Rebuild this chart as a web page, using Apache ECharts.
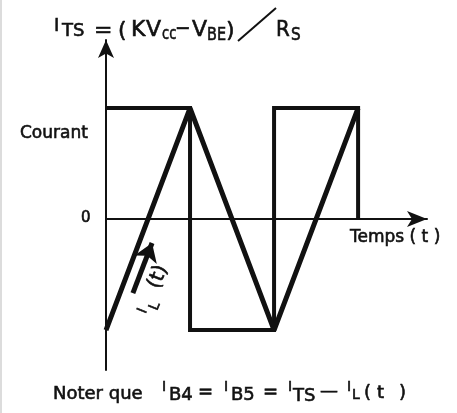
<!DOCTYPE html>
<html>
<head>
<meta charset="utf-8">
<script src="https://cdn.jsdelivr.net/npm/echarts@6/dist/echarts.min.js"></script>
<style>
  html, body { margin: 0; padding: 0; background: #fff; }
  #chart { width: 457px; height: 413px; }
</style>
</head>
<body>
<div id="chart"></div>
<script>
// Waveforms in normalised units: one time unit per half period, ±1 for the current levels
const switchTimes = [0, 1, 1, 2, 2, 3, 3];
const switchCurrent = [1, 1, -1, -1, 1, 1, 0];
const rampTimes = [0, 1, 2, 3];
const inductorCurrent = [-1, 1, -1, 1];
// Direction arrow for I_L(t), tail then tip, in the same units
const arrowTail = [0.32, -0.667];
const arrowHead = [0.548, -0.216];
// Visible extent of the two axes
const timeRange = [0, 3.82];
const currentRange = [-1.36, 1.613];

const INK = '#111';
const FONT = '"DejaVu Sans", sans-serif';

function pairs(xs, ys) {
  return xs.map((x, i) => [x, ys[i]]);
}

// Lettering: a light outline gives the strokes the weight of stencil lettering
function txt(text, x, y, size, sx) {
  return {
    type: 'text',
    x: x,
    y: y,
    scaleX: sx || 1,
    silent: true,
    style: {
      text: text,
      fontSize: size,
      fontFamily: FONT,
      fill: INK,
      stroke: INK,
      lineWidth: 0.6,
      align: 'left',
      verticalAlign: 'middle'
    }
  };
}

const chart = echarts.init(document.getElementById('chart'), null, { renderer: 'canvas' });

chart.setOption({
  animation: false,
  backgroundColor: '#fff',
  grid: { left: 106, right: 30, top: 40, bottom: 43, containLabel: false },
  xAxis: {
    type: 'value',
    min: timeRange[0],
    max: timeRange[1],
    axisLine: {
      show: true,
      onZero: true,
      symbol: ['none', 'arrow'],
      symbolSize: [12, 20],
      lineStyle: { color: INK, width: 2 }
    },
    axisTick: { show: false },
    axisLabel: { show: false },
    splitLine: { show: false }
  },
  yAxis: {
    type: 'value',
    min: currentRange[0],
    max: currentRange[1],
    axisLine: {
      show: true,
      onZero: true,
      symbol: ['none', 'arrow'],
      symbolSize: [12, 18],
      lineStyle: { color: INK, width: 2 }
    },
    axisTick: { show: false },
    axisLabel: { show: false },
    splitLine: { show: false }
  },
  series: [
    {
      name: 'I_TS',
      type: 'line',
      data: pairs(switchTimes, switchCurrent),
      showSymbol: false,
      symbol: 'none',
      lineStyle: { color: INK, width: 4, join: 'miter' },
      z: 3
    },
    {
      name: 'I_L',
      type: 'line',
      data: pairs(rampTimes, inductorCurrent),
      showSymbol: false,
      symbol: 'none',
      lineStyle: { color: INK, width: 5, join: 'bevel' },
      z: 4
    },
    {
      name: 'sens',
      type: 'lines',
      coordinateSystem: 'cartesian2d',
      data: [{ coords: [arrowTail, arrowHead] }],
      symbol: ['none', 'arrow'],
      symbolSize: [12, 18],
      lineStyle: { color: INK, width: 5, opacity: 1 },
      z: 5
    }
  ],
  graphic: [
    { type: 'rect', shape: { x: 0, y: 0, width: 2, height: 413 }, style: { fill: '#dcdcdc' }, silent: true },

    // I_TS = (KV_cc - V_BE) / R_S
    txt('I', 54, 26, 18),
    txt('TS', 62, 31.5, 18),
    txt('=', 94, 31, 22),
    txt('(', 118, 31, 22),
    txt('K', 131, 30, 22),
    txt('V', 146, 30, 22),
    txt('cc', 162, 34, 18, 0.72),
    txt('\u2212', 175, 29, 22, 0.85),
    txt('V', 192, 30, 22),
    txt('BE', 207, 35.5, 18, 0.8),
    txt(')', 226, 31, 22),
    { type: 'line', shape: { x1: 238, y1: 41, x2: 276, y2: 8 }, style: { stroke: INK, lineWidth: 2 }, silent: true },
    txt('R', 276, 30.5, 22, 0.9),
    txt('S', 291, 35.5, 18, 0.85),

    txt('Courant', 20, 134, 17),
    txt('0', 81, 218.5, 15),
    txt('Temps ( t )', 350, 238, 17),

    // I_L(t), written along the arrow
    {
      type: 'group',
      x: 155,
      y: 290,
      rotation: 1.19,
      children: [
        txt('I', -26, -3.5, 14),
        txt('L', -19, 6, 14),
        txt('(t)', 1.5, -2, 20)
      ]
    },

    // Noter que I_B4 = I_B5 = I_TS - I_L(t)
    txt('Noter que', 53, 394, 18),
    txt('I', 162, 387.5, 14),
    txt('B4', 169, 395, 18),
    txt('=', 198, 392, 18),
    txt('I', 224, 387.5, 14),
    txt('B5', 231, 395, 18),
    txt('=', 263, 392, 18),
    txt('I', 288, 387.5, 14),
    txt('TS', 293, 396, 18),
    txt('\u2014', 320, 391, 18),
    txt('I', 347, 387.5, 14),
    txt('L', 352, 395, 14),
    txt('(', 364, 393, 18),
    txt('t', 377, 393, 18),
    txt(')', 399, 393, 18)
  ]
});
</script>
</body>
</html>
